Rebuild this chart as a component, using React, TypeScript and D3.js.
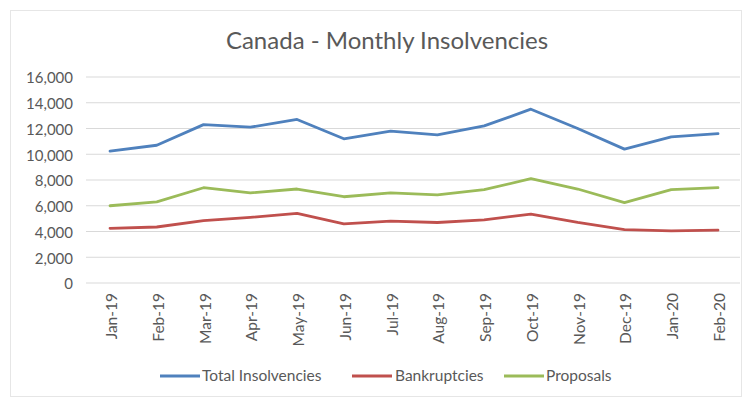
import React from "react";
import * as d3 from "d3";

const categories = ["Jan-19","Feb-19","Mar-19","Apr-19","May-19","Jun-19","Jul-19","Aug-19","Sep-19","Oct-19","Nov-19","Dec-19","Jan-20","Feb-20"];
const totalInsolvencies = [10250,10700,12300,12100,12700,11200,11800,11500,12200,13500,12000,10400,11350,11600];
const bankruptcies = [4250,4350,4850,5100,5400,4600,4800,4700,4900,5350,4700,4150,4050,4100];
const proposals = [6000,6300,7400,7000,7300,6700,7000,6850,7250,8100,7300,6250,7250,7400];
const yTicks = [0,2000,4000,6000,8000,10000,12000,14000,16000];

const seriesNames = ["Total Insolvencies","Bankruptcies","Proposals"];
const seriesColors = ["#4F81BD","#C0504D","#9BBB59"];
const seriesData = [totalInsolvencies, bankruptcies, proposals];

export default function App() {
  const W = 749, H = 403;
  const x = d3.scalePoint<string>().domain(categories).range([110, 718]);
  const y = d3.scaleLinear().domain([0, 16000]).range([283, 77]);
  const line = d3.line<number>().x((_, i) => x(categories[i])!).y(d => y(d));
  const fmt = d3.format(",");
  const font = "Lato, 'Open Sans', sans-serif";
  const textColor = "#595959";
  const legendItems = [
    { lx: 160, tx: 202 },
    { lx: 352, tx: 395 },
    { lx: 504, tx: 546 },
  ];
  return (
    <svg width={W} height={H} style={{ position: "fixed", left: 0, top: 0, background: "#fff" }} fontFamily={font}>
      <rect x={0} y={0} width={W} height={H} fill="#fff" />
      <rect x={10.5} y={10.5} width={731} height={386} fill="#fff" stroke="#e6e6e6" />
      <text x={387} y={49} textAnchor="middle" fontSize={24} fill={textColor}>Canada - Monthly Insolvencies</text>
      {yTicks.map(t => (
        <g key={t}>
          <line x1={86} x2={740} y1={y(t)} y2={y(t)} stroke="#d9d9d9" strokeWidth={1} />
          <text x={73} y={y(t) + 1} dy="0.35em" textAnchor="end" fontSize={15} fill={textColor}>{fmt(t)}</text>
        </g>
      ))}
      {categories.map(c => (
        <text key={c} transform={`translate(${x(c)! + 1},${293}) rotate(-90)`} textAnchor="end" dominantBaseline="central" fontSize={15.5} fill={textColor}>{c}</text>
      ))}
      {seriesData.map((s, i) => (
        <path key={i} d={line(s)!} fill="none" stroke={seriesColors[i]} strokeWidth={2.8} strokeLinejoin="round" strokeLinecap="round" />
      ))}
      {seriesNames.map((n, i) => (
        <g key={n}>
          <line x1={legendItems[i].lx} x2={legendItems[i].lx + 40} y1={376} y2={376} stroke={seriesColors[i]} strokeWidth={2.8} />
          <text x={legendItems[i].tx} y={376} dy="0.35em" fontSize={15.5} fill={textColor}>{n}</text>
        </g>
      ))}
    </svg>
  );
}
